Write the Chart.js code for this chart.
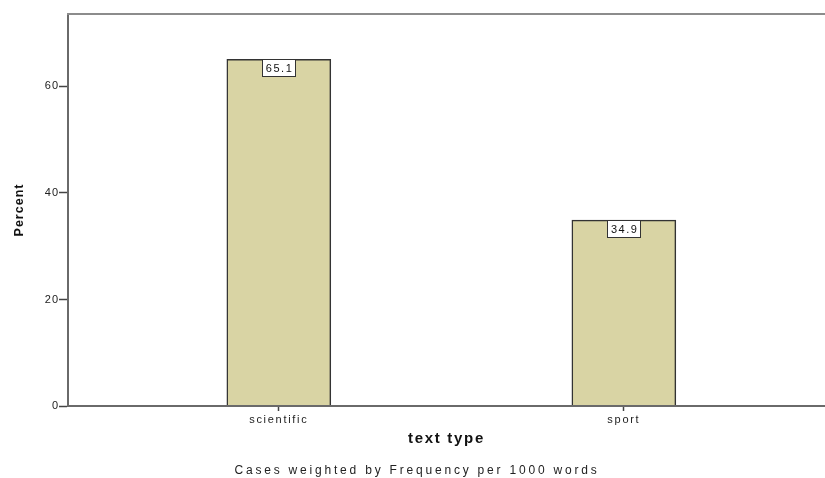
<!DOCTYPE html>
<html lang="en">
  <head>
    <meta charset="UTF-8" />
    <title>Percent by text type</title>
    <script src="https://cdn.jsdelivr.net/npm/chart.js"></script>
    <style>
      html, body { margin: 0; padding: 0; background: #fff; }
      #wrap { width: 825px; height: 478px; }
    </style>
  </head>
  <body>
    <div id="wrap"><canvas id="chartTexto"></canvas></div>
    <script>
      // datos del grafico
      var categories = ['scientific', 'sport'];
      var percents = [65.1, 34.9];
      var yTicks = [0, 20, 40, 60];
      var yMax = 73.6;
      var note = 'Cases weighted by Frequency per 1000 words';

      Chart.defaults.font.family = '"Liberation Sans", Arial, sans-serif';
      Chart.defaults.color = '#222';

      // marco superior, etiquetas de valor y nota al pie (estilo SPSS)
      var spssLook = {
        id: 'spssLook',
        beforeDraw: function (chart) {
          chart.ctx.letterSpacing = '1px';
        },
        beforeDatasetsDraw: function (chart) {
          var a = chart.chartArea, ctx = chart.ctx;
          ctx.save();
          ctx.strokeStyle = '#8c8c8c';
          ctx.lineWidth = 2;
          ctx.beginPath();
          ctx.moveTo(a.left - 1, a.top);
          ctx.lineTo(chart.width, a.top);
          ctx.stroke();
          ctx.restore();
        },
        afterDatasetsDraw: function (chart) {
          var ctx = chart.ctx;
          var meta = chart.getDatasetMeta(0);
          ctx.save();
          ctx.letterSpacing = '1.5px';
          ctx.font = '11px "Liberation Sans", Arial, sans-serif';
          ctx.textAlign = 'center';
          ctx.textBaseline = 'middle';
          meta.data.forEach(function (bar, i) {
            var txt = percents[i].toFixed(1);
            var w = Math.round(ctx.measureText(txt).width + 6);
            var h = 17;
            var x = Math.round(bar.x - w / 2) + 0.5;
            var y = Math.round(bar.y) + 0.5;
            ctx.fillStyle = '#fff';
            ctx.fillRect(x, y, w, h);
            ctx.strokeStyle = '#333';
            ctx.lineWidth = 1;
            ctx.strokeRect(x, y, w, h);
            ctx.fillStyle = '#111';
            ctx.fillText(txt, bar.x + 0.75, y + h / 2 + 0.5);
          });
          ctx.restore();
          // el eje x se dibuja despues (z: 1) con texto mas ancho
          ctx.letterSpacing = '1.7px';
        },
        afterDraw: function (chart) {
          var ctx = chart.ctx;
          ctx.save();
          ctx.letterSpacing = '2.8px';
          ctx.font = '12px "Liberation Sans", Arial, sans-serif';
          ctx.fillStyle = '#222';
          ctx.textAlign = 'center';
          ctx.textBaseline = 'middle';
          ctx.fillText(note, 417, 471);
          ctx.restore();
          ctx.letterSpacing = '0px';
        }
      };

      var ctxTexto = document.getElementById('chartTexto').getContext('2d');
      var chartTexto = new Chart(ctxTexto, {
        type: 'bar',
        data: {
          datasets: [{
            label: 'Percent',
            data: categories.map(function (c, i) { return { x: i + 1, y: percents[i] }; }),
            backgroundColor: '#d9d4a4',
            borderColor: '#333333',
            borderWidth: 1.5,
            barThickness: 104
          }]
        },
        options: {
          responsive: true,
          maintainAspectRatio: false,
          animation: false,
          layout: { padding: { top: 14, right: 0, left: 0, bottom: 24 } },
          plugins: {
            legend: { display: false },
            tooltip: { enabled: false }
          },
          scales: {
            x: {
              type: 'linear',
              offset: false,
              min: 0.389,
              max: 2.583,
              afterBuildTicks: function (scale) {
                scale.ticks = categories.map(function (c, i) { return { value: i + 1 }; });
              },
              afterFit: function (scale) { scale.height = 48; },
              ticks: {
                z: 1,
                padding: 2,
                color: '#222',
                font: { size: 11 },
                maxRotation: 0,
                callback: function (v) { return categories[v - 1]; }
              },
              grid: { z: 1, drawOnChartArea: false, offset: false, tickLength: 5, tickColor: '#444', tickWidth: 1.5 },
              border: { z: 1, display: true, color: '#6a6a6a', width: 2 },
              title: {
                display: true,
                text: 'text type',
                color: '#111',
                font: { size: 15, weight: 'bold' },
                padding: { top: 2, bottom: 6 }
              }
            },
            y: {
              min: 0,
              max: yMax,
              afterBuildTicks: function (scale) {
                scale.ticks = yTicks.map(function (v) { return { value: v }; });
              },
              afterFit: function (scale) { scale.width = 68; },
              ticks: { padding: 0, color: '#222', font: { size: 11 } },
              grid: { drawOnChartArea: false, tickLength: 9, tickColor: '#444', tickWidth: 1.5 },
              border: { display: true, color: '#6a6a6a', width: 2 },
              title: {
                display: true,
                text: 'Percent',
                color: '#111',
                font: { size: 12.5, weight: 'bold' },
                padding: { top: 12, bottom: 0 }
              }
            }
          }
        },
        plugins: [spssLook]
      });
    </script>
  </body>
</html>
